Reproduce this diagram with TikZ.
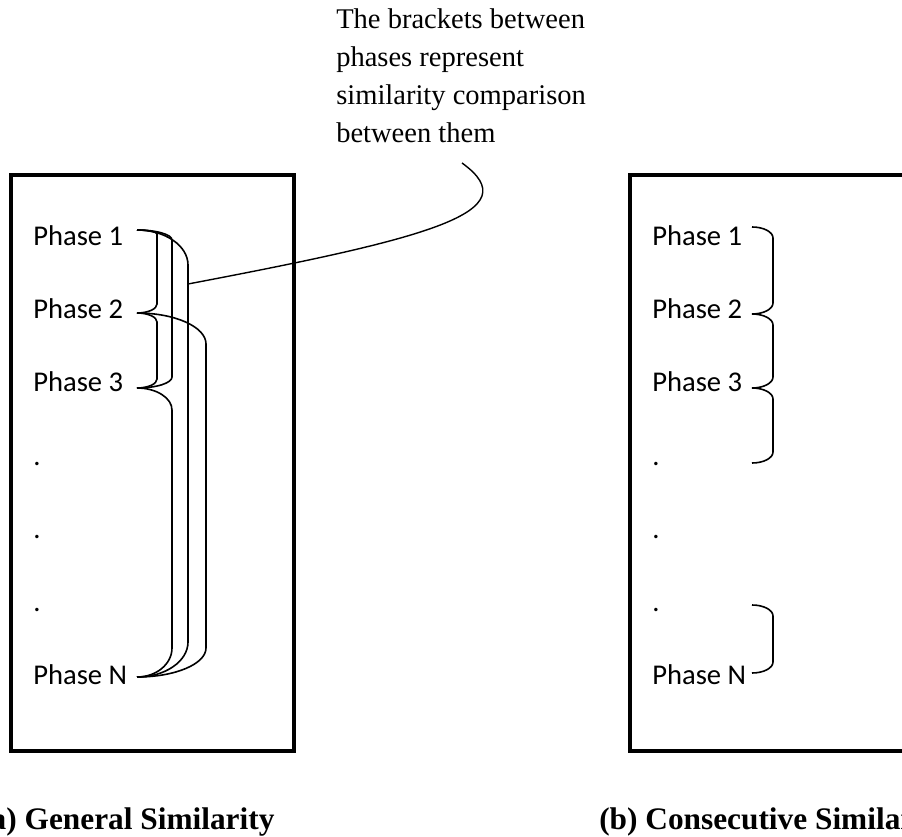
\documentclass[tikz,border=0pt]{standalone}
\usepackage{fontspec}
\setmainfont{Liberation Serif}
\newfontfamily\phasefont{Carlito}
% bracket: x0, ytop, ybot, x1, corner height top, corner height bottom
\newcommand{\brk}[6]{%
  \draw[brk] (#1,#2) .. controls ({#1+0.552*(#4-#1)},#2) and (#4,{#2+0.448*#5}) .. (#4,{#2+#5})
    -- (#4,{#3-#6}) .. controls (#4,{#3-0.448*#6}) and ({#1+0.552*(#4-#1)},#3) .. (#1,#3);}
\begin{document}
\begin{tikzpicture}[x=0.75pt,y=-0.75pt,
  boxline/.style={line width=2.3pt},
  brk/.style={line width=1.2pt},
  callout/.style={line width=1.05pt},
  phase/.style={anchor=base west, inner sep=0pt, font=\phasefont\fontsize{21.45}{25}\selectfont},
  note/.style={anchor=base west, inner sep=0pt, font=\fontsize{21.4}{28.5}\selectfont},
  captext/.style={anchor=base west, inner sep=0pt, font=\bfseries\fontsize{23.5}{28}\selectfont}]
\clip (0,0) rectangle (902,837);
\fill[white] (0,0) rectangle (902,837);

% boxes
\draw[boxline] (11,175) rectangle (294,751);
\draw[boxline] (630,175) rectangle (960,751);

% left labels
\node[phase] (a1) at (33,246) {Phase 1};
\node[phase] (a2) at (33,319) {Phase 2};
\node[phase] (a3) at (33,392) {Phase 3};
\node[phase] (a4) at (33,465) {.};
\node[phase] (a5) at (33,538) {.};
\node[phase] (a6) at (33,611) {.};
\node[phase] (a7) at (33,684) {Phase N};

% right labels
\node[phase] (b1) at (652,246) {Phase 1};
\node[phase] (b2) at (652,319) {Phase 2};
\node[phase] (b3) at (652,392) {Phase 3};
\node[phase] (b4) at (652,465) {.};
\node[phase] (b5) at (652,538) {.};
\node[phase] (b6) at (652,611) {.};
\node[phase] (b7) at (652,684) {Phase N};

% left brackets (general similarity)
\brk{137}{230}{313}{157}{4}{9}
\brk{137}{313}{388}{157}{9}{9}
\brk{137}{230}{388}{172}{10}{11}
\brk{137}{230}{677}{188}{35}{35}
\brk{137}{388}{677}{172}{22}{29}
\brk{137}{313}{677}{206}{31}{29}

% right brackets (consecutive similarity)
\brk{752}{227}{314}{773}{11}{11}
\brk{752}{314}{388}{773}{11}{11}
\brk{752}{388}{463}{773}{11}{11}
\brk{752}{605}{673}{773}{11}{11}

% callout
\node[note] (n1) at (336,29) {The brackets between};
\node[note] (n2) at (336,67) {phases represent};
\node[note] (n3) at (336,105) {similarity comparison};
\node[note] (n4) at (336,143) {between them};
\coordinate (co) at (188,284);
\coordinate (ce) at (462,163);
\draw[callout] (co) .. controls (430,238) and (530,212) .. (ce);

% captions
\node[captext] (ca) at (-20,829) {(a) General Similarity};
\node[captext] (cb) at (599,829) {(b) Consecutive Similarity};
\end{tikzpicture}
\end{document}
